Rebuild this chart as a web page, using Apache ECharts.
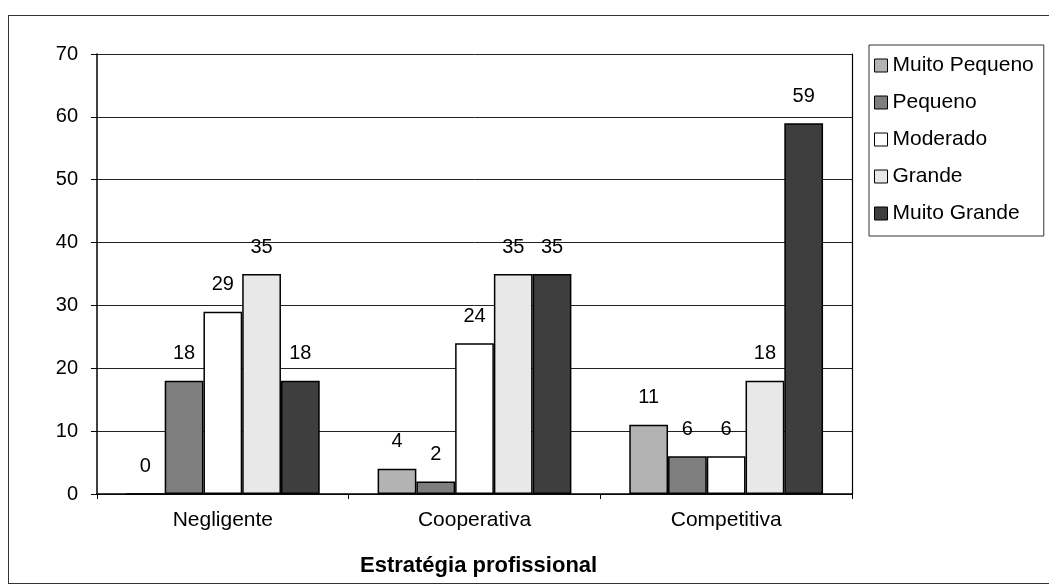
<!DOCTYPE html>
<html>
<head>
<meta charset="utf-8">
<script src="https://cdn.jsdelivr.net/npm/echarts@6/dist/echarts.min.js"></script>
<style>
    html, body { margin: 0; padding: 0; background: #fff; }
    #frame {
        position: absolute; left: 8px; top: 15px;
        width: 1060px; height: 569px;
        border: 1px solid #333; box-sizing: border-box;
    }
    #chart { position: absolute; left: 0; top: 0; width: 1049px; height: 588px; }
</style>
</head>
<body>
<div id="frame"></div>
<div id="chart"></div>
<script>
const categories = ['Negligente', 'Cooperativa', 'Competitiva'];
const seriesNames = ['Muito Pequeno', 'Pequeno', 'Moderado', 'Grande', 'Muito Grande'];
const muitoPequeno = [0, 4, 11];
const pequeno = [18, 2, 6];
const moderado = [29, 24, 6];
const grande = [35, 35, 18];
const muitoGrande = [18, 35, 59];
const yTicks = [0, 10, 20, 30, 40, 50, 60, 70];

const values = [muitoPequeno, pequeno, moderado, grande, muitoGrande];
const colors = ['#b3b3b3', '#7e7e7e', '#ffffff', '#e8e8e8', '#3e3e3e'];
const font = 'Liberation Sans, Arial, sans-serif';

const series = seriesNames.map(function (name, i) {
    return {
        name: name,
        type: 'bar',
        data: values[i],
        barGap: '0%',
        barCategoryGap: '23%',
        itemStyle: { color: colors[i], borderColor: '#000', borderWidth: 1.5 },
        label: { show: true, position: 'top', distance: 17, color: '#000', fontSize: 20, fontFamily: font },
        emphasis: { disabled: true }
    };
});

let myChart = echarts.init(document.getElementById('chart'));
myChart.setOption({
    animation: false,
    title: {
        text: 'Estratégia profissional',
        left: 355,
        top: 550,
        textStyle: { fontSize: 22, fontWeight: 'bold', fontFamily: font, color: '#000' }
    },
    legend: {
        orient: 'vertical',
        left: 869,
        top: 45,
        itemWidth: 13,
        itemHeight: 13,
        itemGap: 16,
        padding: [10, 10, 12, 5],
        borderColor: '#333',
        borderWidth: 1,
        icon: 'rect',
        itemStyle: { borderColor: '#000', borderWidth: 1 },
        textStyle: { fontSize: 21, fontFamily: font, color: '#000' },
        data: seriesNames
    },
    grid: { left: 97, right: 197, top: 54, bottom: 94 },
    xAxis: {
        type: 'category',
        data: categories,
        axisLine: { lineStyle: { color: '#000', width: 1.5 } },
        axisTick: { show: true, length: 5, lineStyle: { color: '#000' } },
        axisLabel: { color: '#000', fontSize: 21, fontFamily: font, margin: 16 }
    },
    yAxis: [{
        type: 'value',
        min: yTicks[0],
        max: yTicks[yTicks.length - 1],
        interval: 10,
        axisLine: { show: true, lineStyle: { color: '#000', width: 1.5 } },
        axisTick: { show: true, length: 6, lineStyle: { color: '#000' } },
        axisLabel: { color: '#000', fontSize: 20, fontFamily: font, margin: 19 },
        splitLine: { show: true, lineStyle: { color: '#222', width: 1 } }
    }, {
        type: 'value',
        position: 'right',
        min: yTicks[0],
        max: yTicks[yTicks.length - 1],
        interval: 10,
        axisLine: { show: true, lineStyle: { color: '#000', width: 1.2 } },
        axisTick: { show: false },
        axisLabel: { show: false },
        splitLine: { show: false }
    }],
    series: series
});
</script>
</body>
</html>
